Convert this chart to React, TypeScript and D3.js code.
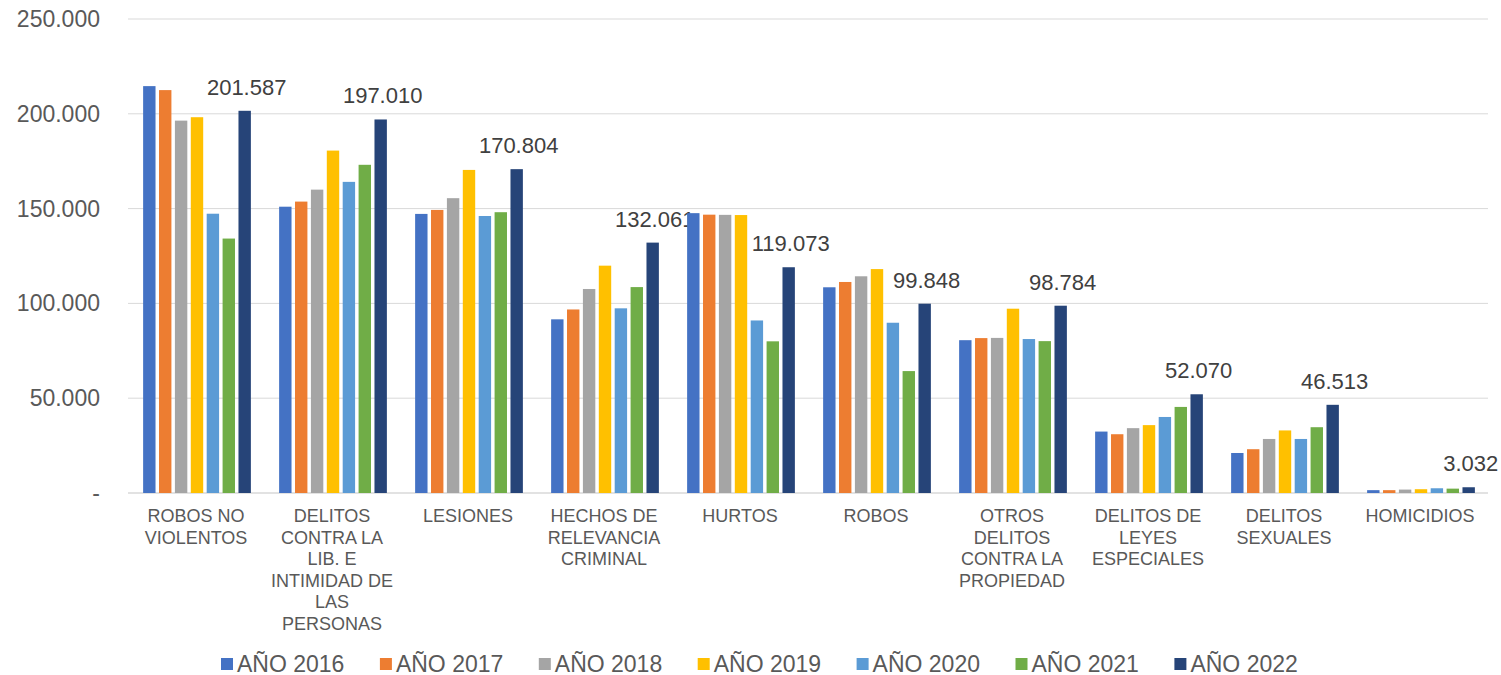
import * as d3 from "d3";

const WIDTH = 1501;
const HEIGHT = 675;
const MARGIN = { top: 19, right: 13, bottom: 182, left: 128 };

const CATEGORIES = [
  "ROBOS NO\nVIOLENTOS",
  "DELITOS\nCONTRA LA\nLIB. E\nINTIMIDAD DE\nLAS\nPERSONAS",
  "LESIONES",
  "HECHOS DE\nRELEVANCIA\nCRIMINAL",
  "HURTOS",
  "ROBOS",
  "OTROS\nDELITOS\nCONTRA LA\nPROPIEDAD",
  "DELITOS DE\nLEYES\nESPECIALES",
  "DELITOS\nSEXUALES",
  "HOMICIDIOS",
];

const YEARS = ["AÑO 2016", "AÑO 2017", "AÑO 2018", "AÑO 2019", "AÑO 2020", "AÑO 2021", "AÑO 2022"];

const COLORS = ["#4472C4", "#ED7D31", "#A5A5A5", "#FFC000", "#5B9BD5", "#70AD47", "#264478"];

// one array per year, in category order
const Y2016 = [214600, 151000, 147200, 91600, 147600, 108500, 80600, 32400, 21100, 1500];
const Y2017 = [212500, 153700, 149300, 96800, 146800, 111300, 81700, 31000, 23100, 1500];
const Y2018 = [196400, 160000, 155500, 107600, 146700, 114300, 81800, 34200, 28500, 1800];
const Y2019 = [198200, 180600, 170400, 119900, 146600, 118100, 97200, 35800, 33000, 2000];
const Y2020 = [147300, 164100, 146100, 97400, 91000, 89800, 81200, 40100, 28500, 2500];
const Y2021 = [134200, 173100, 148100, 108600, 80000, 64300, 80100, 45400, 34700, 2300];
const Y2022 = [201587, 197010, 170804, 132061, 119073, 99848, 98784, 52070, 46513, 3032];

const SERIES = [Y2016, Y2017, Y2018, Y2019, Y2020, Y2021, Y2022];

const Y_TICKS = [0, 50000, 100000, 150000, 200000, 250000];

const fmt = (v: number) => (v === 0 ? "-" : d3.format(",")(v).replace(/,/g, "."));

export default function App() {
  const boundsWidth = WIDTH - MARGIN.left - MARGIN.right;
  const boundsHeight = HEIGHT - MARGIN.top - MARGIN.bottom;

  const x0 = d3
    .scaleBand<number>()
    .domain(CATEGORIES.map((_, i) => i))
    .range([0, boundsWidth])
    .paddingInner(0.182)
    .paddingOuter(0.091);

  const x1 = d3
    .scaleBand<number>()
    .domain(YEARS.map((_, i) => i))
    .range([0, x0.bandwidth()])
    .paddingInner(0.22)
    .paddingOuter(0.11);

  const yScale = d3.scaleLinear().domain([0, 250000]).range([boundsHeight, 0]);

  const font = "'Liberation Sans', Arial, sans-serif";

  return (
    <svg width={WIDTH} height={HEIGHT} style={{ position: "absolute", left: 0, top: 0, background: "#fff" }}>
      <g transform={`translate(${MARGIN.left},${MARGIN.top})`}>
        {/* gridlines + y labels */}
        {Y_TICKS.map((t) => (
          <g key={t} transform={`translate(0,${yScale(t)})`}>
            <line x2={boundsWidth} stroke="#D9D9D9" strokeWidth={t === 0 ? 1.5 : 1} />
            <text
              x={-28}
              dy="0.35em"
              textAnchor="end"
              fill="#595959"
              style={{ fontFamily: font, fontSize: "23px" }}
            >
              {fmt(t)}
            </text>
          </g>
        ))}

        {/* bars */}
        {CATEGORIES.map((cat, ci) => (
          <g key={ci} transform={`translate(${x0(ci)},0)`}>
            {SERIES.map((vals, si) => (
              <rect
                key={si}
                x={(x1(si) ?? 0) + 1}
                y={yScale(vals[ci])}
                width={x1.bandwidth()}
                height={boundsHeight - yScale(vals[ci])}
                fill={COLORS[si]}
              />
            ))}
            {/* value label only for the last year */}
            <text
              x={(x1(6) ?? 0) + x1.bandwidth() / 2 + 3}
              y={yScale(Y2022[ci]) - 16}
              textAnchor="middle"
              fill="#404040"
              style={{ fontFamily: font, fontSize: "22px" }}
            >
              {fmt(Y2022[ci])}
            </text>
          </g>
        ))}

        {/* category labels */}
        {CATEGORIES.map((cat, ci) => (
          <text
            key={ci}
            x={(x0(ci) ?? 0) + x0.bandwidth() / 2}
            y={boundsHeight + 29}
            textAnchor="middle"
            fill="#595959"
            style={{ fontFamily: font, fontSize: "18px" }}
          >
            {cat.split("\n").map((line, li) => (
              <tspan key={li} x={(x0(ci) ?? 0) + x0.bandwidth() / 2} dy={li === 0 ? 0 : 21.5}>
                {line}
              </tspan>
            ))}
          </text>
        ))}
      </g>

      {/* legend */}
      <g transform="translate(221,658)">
        {YEARS.map((yr, i) => (
          <g key={yr} transform={`translate(${i * 158.9},0)`}>
            <rect width={12} height={12} fill={COLORS[i]} />
            <text x={16} y={13.5} fill="#595959" style={{ fontFamily: font, fontSize: "23px" }}>
              {yr}
            </text>
          </g>
        ))}
      </g>
    </svg>
  );
}
